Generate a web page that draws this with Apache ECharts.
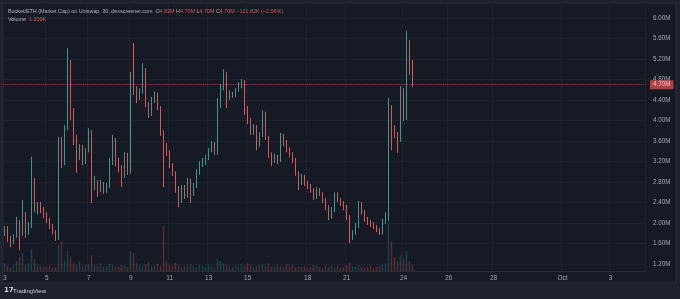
<!DOCTYPE html>
<html>
<head>
<meta charset="utf-8">
<title>Bucket/ETH (Market Cap)</title>
<script src="https://cdn.jsdelivr.net/npm/echarts@6/dist/echarts.min.js"></script>
<style>
  html, body { margin: 0; padding: 0; background: #1f222c; }
  #chart { width: 680px; height: 299px; }
</style>
</head>
<body>
<div id="chart"></div>
<script>
// 30 min candles, market cap in millions: [open, close, low, high]
const candles = [
  [1.77, 1.90, 1.75, 1.94], [1.90, 1.71, 1.63, 1.94], [1.71, 1.61, 1.53, 1.75], [1.61, 1.75, 1.59, 1.78],
  [1.75, 2.02, 1.71, 2.12], [2.02, 1.78, 1.47, 2.06], [1.78, 2.16, 1.75, 2.45], [2.16, 1.80, 1.71, 2.21],
  [1.80, 1.94, 1.77, 2.02], [1.94, 2.80, 1.90, 3.29], [2.80, 2.29, 2.21, 2.88], [2.29, 2.37, 2.17, 2.41],
  [2.37, 2.25, 2.19, 2.41], [2.25, 2.17, 2.10, 2.31], [2.17, 2.06, 2.00, 2.21], [2.06, 1.94, 1.88, 2.10],
  [1.94, 1.82, 1.78, 1.98], [1.82, 1.71, 1.65, 1.86], [1.71, 3.42, 1.67, 3.68], [3.42, 3.19, 3.07, 3.68],
  [3.19, 3.85, 3.13, 3.91], [3.85, 5.08, 3.81, 5.41], [5.08, 4.20, 4.01, 5.18], [4.20, 3.62, 3.52, 4.24],
  [3.62, 3.33, 2.98, 3.72], [3.33, 3.48, 3.23, 3.54], [3.48, 3.23, 3.13, 3.52], [3.23, 3.42, 3.15, 3.46],
  [3.42, 3.77, 3.38, 3.85], [3.77, 2.74, 2.39, 3.81], [2.74, 2.80, 2.64, 2.92], [2.80, 2.68, 2.51, 2.84],
  [2.68, 2.76, 2.60, 2.84], [2.76, 2.64, 2.57, 2.80], [2.64, 2.72, 2.59, 2.78], [2.72, 3.19, 2.68, 3.27],
  [3.19, 3.62, 3.13, 3.72], [3.62, 3.17, 3.11, 3.66], [3.17, 3.07, 2.99, 3.27], [3.07, 2.94, 2.70, 3.13],
  [2.94, 3.33, 2.88, 3.38], [3.33, 2.99, 2.94, 3.37], [2.99, 4.83, 2.96, 4.95], [4.83, 4.59, 4.50, 5.51],
  [4.59, 4.44, 4.34, 4.67], [4.44, 4.56, 4.40, 4.63], [4.56, 4.99, 4.52, 5.12], [4.99, 4.32, 4.26, 5.02],
  [4.32, 4.13, 4.05, 4.36], [4.13, 4.40, 4.09, 4.46], [4.40, 4.50, 4.34, 4.56], [4.50, 4.24, 4.20, 4.54],
  [4.24, 3.77, 3.70, 4.28], [3.77, 3.50, 2.70, 3.81], [3.50, 3.38, 3.31, 3.56], [3.38, 3.13, 3.07, 3.42],
  [3.13, 2.98, 2.92, 3.17], [2.98, 2.64, 2.59, 3.01], [2.64, 2.45, 2.31, 2.72], [2.45, 2.68, 2.39, 2.74],
  [2.68, 2.53, 2.47, 2.74], [2.53, 2.82, 2.49, 2.88], [2.82, 2.57, 2.39, 2.86], [2.57, 2.72, 2.53, 2.78],
  [2.72, 2.99, 2.68, 3.05], [2.99, 3.15, 2.94, 3.21], [3.15, 3.19, 3.09, 3.27], [3.19, 3.27, 3.13, 3.33],
  [3.27, 3.42, 3.23, 3.46], [3.42, 3.54, 3.38, 3.60], [3.54, 3.38, 3.33, 3.58], [3.38, 4.30, 3.33, 4.44],
  [4.30, 4.65, 4.24, 4.71], [4.65, 4.91, 4.59, 5.00], [4.91, 4.44, 4.24, 4.95], [4.44, 4.54, 4.40, 4.59],
  [4.54, 4.50, 4.44, 4.56], [4.50, 4.59, 4.46, 4.63], [4.59, 4.69, 4.56, 4.75], [4.69, 4.75, 4.63, 4.81],
  [4.75, 4.24, 4.11, 4.79], [4.24, 4.01, 3.93, 4.28], [4.01, 3.77, 3.72, 4.05], [3.77, 3.87, 3.72, 3.93],
  [3.87, 3.54, 3.42, 3.91], [3.54, 3.72, 3.48, 3.77], [3.72, 4.13, 3.68, 4.20], [4.13, 3.66, 3.62, 4.17],
  [3.66, 3.33, 3.27, 3.70], [3.33, 3.23, 3.11, 3.38], [3.23, 3.29, 3.17, 3.35], [3.29, 3.23, 3.15, 3.33],
  [3.23, 3.70, 3.19, 3.76], [3.70, 3.56, 3.50, 3.74], [3.56, 3.44, 3.38, 3.62], [3.44, 3.35, 3.29, 3.48],
  [3.35, 3.23, 3.17, 3.38], [3.23, 2.98, 2.92, 3.27], [2.98, 2.80, 2.64, 3.01], [2.80, 2.90, 2.74, 2.96],
  [2.90, 2.78, 2.72, 2.94], [2.78, 2.72, 2.66, 2.82], [2.72, 2.64, 2.59, 2.76], [2.64, 2.51, 2.45, 2.68],
  [2.51, 2.64, 2.47, 2.70], [2.64, 2.57, 2.53, 2.68], [2.57, 2.45, 2.39, 2.60], [2.45, 2.31, 2.25, 2.49],
  [2.31, 2.12, 2.06, 2.35], [2.12, 2.25, 2.08, 2.31], [2.25, 2.57, 2.21, 2.60], [2.57, 2.45, 2.41, 2.60],
  [2.45, 2.39, 2.33, 2.49], [2.39, 2.31, 2.25, 2.43], [2.31, 2.12, 2.06, 2.35], [2.12, 1.71, 1.61, 2.16],
  [1.71, 1.80, 1.67, 1.86], [1.80, 1.94, 1.77, 2.00], [1.94, 2.37, 1.90, 2.43], [2.37, 2.21, 2.16, 2.41],
  [2.21, 2.08, 2.02, 2.25], [2.08, 2.02, 1.96, 2.12], [2.02, 1.98, 1.92, 2.06], [1.98, 1.92, 1.88, 2.02],
  [1.92, 1.86, 1.82, 1.96], [1.86, 1.80, 1.77, 1.90], [1.80, 2.02, 1.77, 2.08], [2.02, 2.10, 1.98, 2.21],
  [2.10, 4.20, 2.04, 4.44], [4.20, 3.85, 3.42, 4.30], [3.85, 3.72, 3.66, 3.91], [3.72, 3.62, 3.37, 3.77],
  [3.62, 4.59, 3.58, 4.67], [4.59, 4.05, 3.99, 4.63], [4.05, 5.47, 4.01, 5.75], [5.47, 5.06, 4.89, 5.57],
  [5.06, 4.70, 4.65, 5.18]
];

// volume per candle, in K
const volumes = [
  1.6, 1.0, 0.8, 1.2, 2.0, 2.8, 3.6, 1.2, 1.6, 4.4, 2.4,
  1.2, 1.0, 0.8, 0.8, 1.0, 0.6, 0.8,
  5.2, 6.0, 2.0, 4.0, 2.8,
  1.6, 1.2, 2.0, 1.0, 1.2, 1.4, 3.2,
  1.2, 1.0, 1.6, 0.8, 1.0, 1.4, 1.2, 0.8, 1.0, 1.2, 1.0, 0.8,
  4.0, 3.6,
  1.6, 1.2, 1.0, 1.4, 1.8, 1.0, 1.2, 1.4, 1.0,
  9.0,
  2.0, 1.2, 1.0, 1.6, 1.2, 0.8, 1.0, 1.2, 1.4, 1.0, 0.8, 1.2, 1.0, 0.8, 1.2, 1.0, 0.8,
  2.4, 2.0, 1.6,
  1.2, 1.0, 0.8, 1.2, 1.0, 1.4, 1.0, 1.6, 1.2, 0.8, 1.0, 1.2, 1.4, 1.0, 1.6, 0.8, 1.0, 1.2, 1.0, 0.8, 1.4, 1.0, 1.2, 0.8, 1.0,
  0.8, 1.0, 0.6, 0.8, 1.2, 1.0, 0.8, 0.6, 1.0, 0.8, 1.2, 0.8, 1.0, 0.6, 0.8, 1.2, 1.6, 1.0, 0.8, 1.2, 0.8, 0.6, 0.8, 1.0, 0.6, 0.8, 1.0, 1.2, 1.6,
  9.6, 6.0, 2.8, 2.0, 3.2, 2.4, 4.0, 2.0, 1.21
];

// time scale: candle slots incl. the empty future part, and the day labels on it
const slotCount = 214;
const dayTicks = { 0: '3', 14: '5', 28: '7', 42: '9', 55: '11', 68: '13', 81: '15', 101: '18', 114: '21', 133: '24', 148: '26', 163: '28', 186: 'Oct', 202: '3' };
const priceTicks = [1.2, 1.6, 2.0, 2.4, 2.8, 3.2, 3.6, 4.0, 4.4, 4.8, 5.2, 5.6, 6.0];
const lastPrice = 4.70;

const UP = '#3a9a90';
const DOWN = '#d9575a';

const slots = Array.from({ length: slotCount }, (_, i) => 'bar' + i);
const isDayTick = (i) => dayTicks[i] !== undefined;

const chart = echarts.init(document.getElementById('chart'), null, { renderer: 'canvas' });

chart.setOption({
  animation: false,
  backgroundColor: '#1f222c',
  textStyle: { fontFamily: 'Liberation Sans, Arial, sans-serif' },
  graphic: [
    {
      type: 'rect', z: -10, silent: true,
      shape: { x: 2, y: 3, width: 674, height: 280 },
      style: { fill: '#161a25', stroke: '#2a2e39', lineWidth: 1 }
    },
    {
      type: 'text', left: 8, top: 9, z: 100,
      style: {
        text: 'Bucket/ETH (Market Cap) on Uniswap, 30, dexscreener.com  {k|O}{v|4.83M} {k|H}{v|4.70M} {k|L}{v|4.70M} {k|C}{v|4.70M} {v|\u2212121.82K (\u22122.56%)}',
        fill: '#b2b5be', fontSize: 5.4, fontFamily: 'Liberation Sans, Arial, sans-serif',
        rich: {
          k: { fill: '#b2b5be', fontSize: 5.4 },
          v: { fill: DOWN, fontSize: 5.4 }
        }
      }
    },
    {
      type: 'text', left: 8, top: 17, z: 100,
      style: {
        text: 'Volume  {v|1.209K}',
        fill: '#b2b5be', fontSize: 5.4, fontFamily: 'Liberation Sans, Arial, sans-serif',
        rich: { v: { fill: DOWN, fontSize: 5.4 } }
      }
    },
    {
      type: 'text', left: 4, top: 287,
      style: { text: '17', fill: '#d1d4dc', fontSize: 7, fontWeight: 'bold', fontFamily: 'DejaVu Sans, sans-serif' }
    },
    {
      type: 'text', left: 13, top: 288,
      style: { text: 'TradingView', fill: '#d1d4dc', fontSize: 6, fontFamily: 'Liberation Sans, Arial, sans-serif' }
    }
  ],
  grid: [
    { left: 3, right: 35, top: 5, height: 266 },
    { left: 3, right: 35, top: 171, height: 100 }
  ],
  xAxis: [
    {
      type: 'category',
      data: slots,
      axisLine: { lineStyle: { color: '#2a2e39' } },
      axisTick: { show: false },
      axisLabel: {
        interval: (i) => isDayTick(i),
        formatter: (v, i) => dayTicks[i],
        color: '#a3a6af',
        fontSize: 6.5,
        margin: 4
      },
      splitLine: {
        show: true,
        interval: (i) => isDayTick(i),
        lineStyle: { color: '#1f2330', width: 1 }
      }
    },
    {
      type: 'category',
      gridIndex: 1,
      data: slots,
      show: false
    }
  ],
  yAxis: [
    {
      type: 'value',
      position: 'right',
      min: 1.0634,
      max: 6.2537,
      axisLine: { show: false },
      axisTick: { show: false, customValues: priceTicks },
      axisLabel: {
        customValues: priceTicks,
        formatter: (v) => v.toFixed(2) + 'M',
        color: '#a3a6af',
        fontSize: 6.3,
        margin: 8
      },
      splitLine: { show: true, lineStyle: { color: '#1f2330', width: 1 } }
    },
    {
      type: 'value',
      gridIndex: 1,
      min: 0,
      max: 20,
      show: false
    }
  ],
  series: [
    {
      name: 'Volume',
      type: 'bar',
      xAxisIndex: 1,
      yAxisIndex: 1,
      barWidth: 1.4,
      z: 1,
      data: volumes.map((v, i) => ({
        value: v,
        itemStyle: {
          color: candles[i][1] >= candles[i][0] ? 'rgba(38,166,154,0.32)' : 'rgba(239,83,80,0.32)'
        }
      }))
    },
    {
      name: 'Bucket/ETH',
      type: 'candlestick',
      barWidth: 1,
      z: 3,
      itemStyle: {
        color: UP,
        color0: DOWN,
        borderColor: UP,
        borderColor0: DOWN,
        borderWidth: 1
      },
      data: candles,
      markLine: {
        silent: true,
        symbol: 'none',
        lineStyle: { color: DOWN, type: 'dotted', width: 1, opacity: 0.7 },
        label: {
          position: 'end',
          distance: 5,
          formatter: () => lastPrice.toFixed(2) + 'M',
          color: '#ffffff',
          backgroundColor: '#ef5350',
          fontSize: 6.3,
          padding: [2, 3, 1, 3],
          borderRadius: 1
        },
        data: [{ yAxis: lastPrice }]
      }
    }
  ]
});
</script>
</body>
</html>
